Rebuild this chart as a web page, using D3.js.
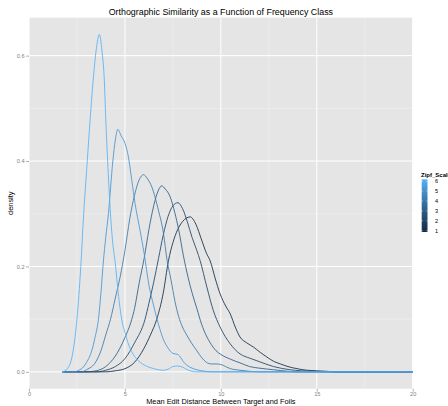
<!DOCTYPE html>
<html>
<head>
<meta charset="utf-8">
<script src="https://cdn.jsdelivr.net/npm/d3@7"></script>
<style>
  html, body { margin: 0; padding: 0; background: #fff; }
  svg { display: block; font-family: "Liberation Sans", Arial, sans-serif; }
</style>
</head>
<body>
<svg id="chart" width="448" height="406"></svg>
<script>
// density curves, one per Zipf_Scale level (x = mean edit distance, y = density)
const zipf1X = [1.75, 4.0, 4.5, 5.0, 5.5, 6.0, 6.33, 6.66, 7.0, 7.27, 7.5, 7.75, 8.0, 8.4, 8.7, 9.0, 9.25, 9.44, 9.7, 9.96, 10.25, 10.49, 10.75, 11.0, 11.35, 11.7, 12.05, 12.4, 12.75, 13.1, 13.5, 13.97, 14.5, 15.0, 15.5, 16, 20];
const zipf1Y = [0, 0, 0.002, 0.006, 0.018, 0.045, 0.07, 0.1, 0.15, 0.211, 0.245, 0.27, 0.285, 0.294, 0.28, 0.25, 0.225, 0.211, 0.178, 0.148, 0.125, 0.11, 0.085, 0.066, 0.055, 0.047, 0.037, 0.028, 0.02, 0.015, 0.01, 0.006, 0.003, 0.002, 0.001, 0, 0];

const zipf2X = [1.75, 3.5, 4.0, 4.5, 5.0, 5.5, 6.05, 6.25, 6.5, 6.75, 7.0, 7.25, 7.5, 7.76, 8.0, 8.25, 8.5, 8.75, 8.92, 9.27, 9.61, 9.96, 10.49, 11.0, 11.5, 11.88, 12.75, 13.6, 14.8, 16, 20];
const zipf2Y = [0, 0, 0.003, 0.01, 0.025, 0.055, 0.1, 0.13, 0.17, 0.215, 0.26, 0.295, 0.315, 0.321, 0.31, 0.285, 0.255, 0.23, 0.211, 0.161, 0.116, 0.085, 0.053, 0.034, 0.026, 0.021, 0.010, 0.004, 0.001, 0, 0];

const zipf3X = [1.75, 3.0, 3.5, 4.0, 4.5, 5.0, 5.36, 5.5, 5.75, 6.0, 6.25, 6.5, 6.75, 6.92, 7.1, 7.36, 7.6, 7.8, 8.05, 8.3, 8.5, 8.75, 9.0, 9.25, 9.5, 9.75, 10.0, 10.5, 11.0, 11.5, 12.0, 12.75, 13.5, 14, 16, 20];
const zipf3Y = [0, 0, 0.002, 0.01, 0.03, 0.065, 0.1, 0.12, 0.17, 0.215, 0.27, 0.315, 0.345, 0.353, 0.347, 0.332, 0.302, 0.27, 0.22, 0.178, 0.15, 0.12, 0.09, 0.068, 0.052, 0.04, 0.033, 0.024, 0.017, 0.010, 0.007, 0.004, 0.001, 0, 0, 0];

const zipf4X = [1.75, 2.75, 3.0, 3.5, 3.75, 4.0, 4.25, 4.5, 4.75, 5.0, 5.25, 5.5, 5.75, 5.96, 6.2, 6.4, 6.75, 7.0, 7.2, 7.4, 7.6, 7.8, 8.0, 8.25, 8.5, 8.75, 9.0, 9.25, 9.5, 9.75, 10.0, 10.25, 10.5, 11.0, 11.5, 12, 16, 20];
const zipf4Y = [0, 0, 0.004, 0.02, 0.04, 0.07, 0.1, 0.14, 0.18, 0.23, 0.29, 0.335, 0.365, 0.374, 0.365, 0.351, 0.306, 0.265, 0.211, 0.175, 0.135, 0.105, 0.085, 0.068, 0.053, 0.040, 0.027, 0.018, 0.015, 0.015, 0.014, 0.010, 0.006, 0.003, 0.001, 0, 0, 0];

const zipf5X = [1.75, 2.3, 2.6, 2.83, 3.0, 3.27, 3.44, 3.62, 3.75, 3.88, 4.0, 4.14, 4.37, 4.5, 4.63, 4.8, 5.01, 5.18, 5.36, 5.53, 5.79, 6.0, 6.25, 6.5, 6.75, 7.0, 7.25, 7.5, 7.75, 7.85, 8.05, 8.25, 8.5, 9.0, 9.5, 12, 16, 20];
const zipf5Y = [0, 0, 0.003, 0.009, 0.018, 0.04, 0.065, 0.1, 0.15, 0.211, 0.255, 0.3, 0.4, 0.44, 0.46, 0.448, 0.433, 0.408, 0.363, 0.319, 0.268, 0.225, 0.165, 0.125, 0.09, 0.062, 0.045, 0.035, 0.033, 0.03, 0.019, 0.012, 0.007, 0.002, 0, 0, 0, 0];

const zipf6X = [1.75, 2.0, 2.25, 2.5, 2.7, 2.85, 3.0, 3.15, 3.36, 3.5, 3.67, 3.8, 3.93, 4.0, 4.1, 4.23, 4.35, 4.5, 4.65, 4.83, 5.0, 5.18, 5.4, 5.6, 5.8, 6.0, 6.25, 6.5, 6.75, 7.0, 7.25, 7.5, 7.75, 8.0, 8.25, 8.5, 8.75, 9.5, 12, 16, 20];
const zipf6Y = [0, 0.006, 0.03, 0.1, 0.2, 0.3, 0.38, 0.46, 0.56, 0.61, 0.64, 0.61, 0.55, 0.48, 0.40, 0.31, 0.25, 0.205, 0.15, 0.1, 0.075, 0.053, 0.035, 0.025, 0.018, 0.013, 0.009, 0.006, 0.004, 0.003, 0.005, 0.010, 0.011, 0.009, 0.004, 0.001, 0, 0, 0, 0, 0];

const zipfLevels = [1, 2, 3, 4, 5, 6];
const xTicks = [0, 5, 10, 15, 20];
const xMinor = [2.5, 7.5, 12.5, 17.5];
const yTicks = [0, 0.2, 0.4, 0.6];
const yMinor = [0.1, 0.3, 0.5];

const series = [
    { level: 1, x: zipf1X, y: zipf1Y },
    { level: 2, x: zipf2X, y: zipf2Y },
    { level: 3, x: zipf3X, y: zipf3Y },
    { level: 4, x: zipf4X, y: zipf4Y },
    { level: 5, x: zipf5X, y: zipf5Y },
    { level: 6, x: zipf6X, y: zipf6Y }
].map(s => ({ level: s.level, points: s.x.map((v, i) => [v, s.y[i]]) }));

const svg = d3.select('#chart');

const PANEL = { left: 29, right: 412.7, top: 17.7, bottom: 388.7 };

const x = d3.scaleLinear().domain([0, 20]).range([PANEL.left, PANEL.right]);
const yMax = d3.max(series, s => d3.max(s.points, p => p[1]));
const yPad = yMax * 0.05;
const y = d3.scaleLinear().domain([-yPad, yMax + yPad]).range([PANEL.bottom, PANEL.top]);

const color = d3.scaleLinear()
    .domain([1, 6])
    .range(['#132B43', '#56B1F7'])
    .interpolate(d3.interpolateLab);

const grey50 = '#7F7F7F';

// panel + grid
svg.append('rect')
    .attr('x', PANEL.left)
    .attr('y', PANEL.top)
    .attr('width', PANEL.right - PANEL.left)
    .attr('height', PANEL.bottom - PANEL.top)
    .attr('fill', '#E5E5E5');

const grid = svg.append('g');
grid.selectAll('line.minor-x')
    .data(xMinor)
    .join('line')
    .attr('x1', d => x(d)).attr('x2', d => x(d))
    .attr('y1', PANEL.top).attr('y2', PANEL.bottom)
    .attr('stroke', '#F2F2F2').attr('stroke-width', 0.5);
grid.selectAll('line.minor-y')
    .data(yMinor)
    .join('line')
    .attr('x1', PANEL.left).attr('x2', PANEL.right)
    .attr('y1', d => y(d)).attr('y2', d => y(d))
    .attr('stroke', '#F2F2F2').attr('stroke-width', 0.5);
grid.selectAll('line.major-x')
    .data(xTicks)
    .join('line')
    .attr('x1', d => x(d)).attr('x2', d => x(d))
    .attr('y1', PANEL.top).attr('y2', PANEL.bottom)
    .attr('stroke', '#fff').attr('stroke-width', 1);
grid.selectAll('line.major-y')
    .data(yTicks)
    .join('line')
    .attr('x1', PANEL.left).attr('x2', PANEL.right)
    .attr('y1', d => y(d)).attr('y2', d => y(d))
    .attr('stroke', '#fff').attr('stroke-width', 1);

// density lines
const line = d3.line()
    .x(d => x(d[0]))
    .y(d => y(d[1]))
    .curve(d3.curveMonotoneX);

svg.append('g')
    .selectAll('path')
    .data(series)
    .join('path')
    .attr('d', d => line(d.points))
    .attr('fill', 'none')
    .attr('stroke', d => color(d.level))
    .attr('stroke-width', 0.85);

// axes
const xAxis = svg.append('g')
    .attr('transform', `translate(0,${PANEL.bottom})`)
    .call(d3.axisBottom(x).tickValues(xTicks).tickSize(3).tickPadding(0.6).tickFormat(d3.format('d')));
xAxis.select('.domain').remove();
xAxis.selectAll('.tick line').attr('stroke', grey50).attr('stroke-width', 0.6);
xAxis.selectAll('.tick text').attr('fill', grey50).style('font-size', '5.6px');

const yAxis = svg.append('g')
    .attr('transform', `translate(${PANEL.left},0)`)
    .call(d3.axisLeft(y).tickValues(yTicks).tickSize(3).tickPadding(1.5).tickFormat(d3.format('.1f')));
yAxis.select('.domain').remove();
yAxis.selectAll('.tick line').attr('stroke', grey50).attr('stroke-width', 0.6);
yAxis.selectAll('.tick text').attr('fill', grey50).style('font-size', '5.6px');

// titles
svg.append('text')
    .attr('x', (PANEL.left + PANEL.right) / 2)
    .attr('y', 15.3)
    .attr('text-anchor', 'middle')
    .style('font-size', '8.9px')
    .text('Orthographic Similarity as a Function of Frequency Class');

svg.append('text')
    .attr('x', (PANEL.left + PANEL.right) / 2)
    .attr('y', 404)
    .attr('text-anchor', 'middle')
    .style('font-size', '7.4px')
    .text('Mean Edit Distance Between Target and Foils');

svg.append('text')
    .attr('transform', `translate(12.5,${(PANEL.top + PANEL.bottom) / 2}) rotate(-90)`)
    .attr('text-anchor', 'middle')
    .style('font-size', '7.4px')
    .text('density');

// legend (colourbar)
const legend = svg.append('g');
const barTop = 179.3, barBottom = 232, barLeft = 421.7, barW = 5.8;
const lg = svg.append('defs').append('linearGradient')
    .attr('id', 'zipf-grad')
    .attr('x1', 0).attr('y1', 1).attr('x2', 0).attr('y2', 0);
d3.range(0, 1.0001, 0.1).forEach(t => {
    lg.append('stop')
        .attr('offset', t)
        .attr('stop-color', color(1 + 5 * t));
});

const legendY = d3.scaleLinear().domain([1, 6]).range([230.7, 181.3]);

legend.append('text')
    .attr('x', 421)
    .attr('y', 177)
    .style('font-size', '6px')
    .style('font-weight', 'bold')
    .text('Zipf_Scale');

legend.append('rect')
    .attr('x', barLeft)
    .attr('y', barTop)
    .attr('width', barW)
    .attr('height', barBottom - barTop)
    .attr('fill', 'url(#zipf-grad)');

legend.selectAll('line.tl')
    .data(zipfLevels)
    .join('line')
    .attr('x1', barLeft).attr('x2', barLeft + 1.2)
    .attr('y1', d => legendY(d)).attr('y2', d => legendY(d))
    .attr('stroke', '#fff').attr('stroke-width', 0.5);
legend.selectAll('line.tr')
    .data(zipfLevels)
    .join('line')
    .attr('x1', barLeft + barW - 1.2).attr('x2', barLeft + barW)
    .attr('y1', d => legendY(d)).attr('y2', d => legendY(d))
    .attr('stroke', '#fff').attr('stroke-width', 0.5);

legend.selectAll('text.lab')
    .data(zipfLevels)
    .join('text')
    .attr('x', 435)
    .attr('y', d => legendY(d))
    .attr('dy', '0.35em')
    .style('font-size', '5.6px')
    .text(d => d);
</script>
</body>
</html>
